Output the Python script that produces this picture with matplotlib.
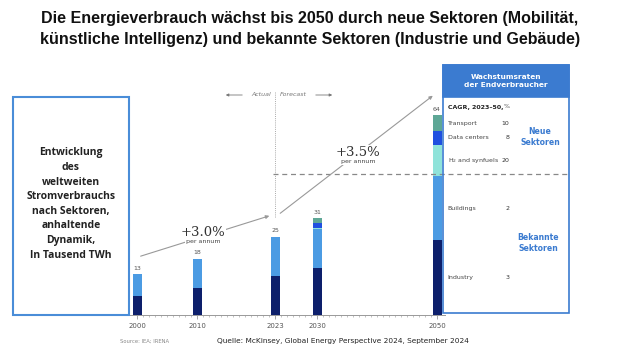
import matplotlib.pyplot as plt
from matplotlib.patches import Rectangle

# Data (in thousand TWh)
years = [2000, 2010, 2023, 2030, 2050]
industry = [6, 8.5, 12.5, 15, 24]
buildings = [7, 9.5, 12.5, 12.5, 20.5]
h2_synfuels = [0, 0, 0, 0.5, 10]
data_centers = [0, 0, 0, 1.5, 4.5]
transport = [0, 0, 0, 1.5, 5]
totals = [13, 18, 25, 31, 64]

sectors = ['Industry', 'Buildings', 'H$_2$ and synfuels', 'Data centers', 'Transport']
cagr = [3, 2, 20, 8, 10]
colors = ['#0d1f6b', '#4b9be3', '#8fe3da', '#1f50e0', '#5ea796']

BLUE = '#3b7bd0'

fig = plt.figure(figsize=(6.2, 3.6), dpi=100)

# bar axes: 2000 -> x=137px, 6 px per year, baseline at y=315px
ax = fig.add_axes([125 / 620, 45 / 360, 320 / 620, 230 / 360])
ax.set_xlim(1998, 2051.33)
ax.set_ylim(0, 230 / 3.12)

stack = [industry, buildings, h2_synfuels, data_centers, transport]
bottom = [0] * len(years)
for vals, c in zip(stack, colors):
    ax.bar(years, vals, bottom=bottom, width=1.5, color=c, zorder=2)
    bottom = [b + v for b, v in zip(bottom, vals)]

for x, t in zip(years, totals):
    ax.text(x, t + 1.2, str(t), ha='center', va='bottom', fontsize=4.5, color='#555')

for s in ['top', 'right', 'left']:
    ax.spines[s].set_visible(False)
ax.spines['bottom'].set_color('#999')
ax.spines['bottom'].set_linewidth(0.7)
ax.set_yticks([])
ax.set_xticks(years)
ax.set_xticklabels([str(y) for y in years])
ax.set_xticks(range(2000, 2051), minor=True)
ax.tick_params(axis='x', which='major', length=3, width=0.6, color='#999',
               labelsize=5, labelcolor='#555', pad=3)
ax.tick_params(axis='x', which='minor', length=1.5, width=0.5, color='#aaa')

# 2050 breakdown rows, at the segment middles of the 2050 bar
cum = 0
for vals, name, rate in zip(stack, sectors, cagr):
    mid = cum + vals[-1] / 2
    cum += vals[-1]
    ax.text(2051.8, mid, name, fontsize=4.5, color='#444', va='center', clip_on=False)
    ax.text(2062.0, mid, str(rate), fontsize=4.5, color='#333', ha='right', va='center',
            clip_on=False)

# overlay in pixel coordinates for annotations and boxes
ov = fig.add_axes([0, 0, 1, 1])
ov.set_xlim(0, 620)
ov.set_ylim(360, 0)
ov.axis('off')
ov.patch.set_alpha(0)

ov.text(310, 29, 'Die Energieverbrauch wächst bis 2050 durch neue Sektoren (Mobilität,\n'
        'künstliche Intelligenz) und bekannte Sektoren (Industrie und Gebäude)',
        ha='center', va='center', fontsize=11.5, fontweight='bold',
        family='Liberation Sans', linespacing=1.5, color='#111')

# left description box
ov.add_patch(Rectangle((13, 97), 116, 218, fill=False, edgecolor='#4a8dd8', lw=1.5))
ov.text(71, 204, 'Entwicklung\ndes\nweltweiten\nStromverbrauchs\nnach Sektoren,\nanhaltende\n'
        'Dynamik,\nIn Tausend TWh', ha='center', va='center', fontsize=7.5,
        fontweight='bold', family='Open Sans', linespacing=1.45, color='#222')

# actual / forecast divider
ov.plot([275, 275], [92, 217], ls=(0, (1, 1.2)), color='#aaa', lw=0.7)
ov.annotate('', xy=(223, 95), xytext=(245, 95),
            arrowprops=dict(arrowstyle='-|>', color='#777', lw=0.6, mutation_scale=4))
ov.annotate('', xy=(335, 95), xytext=(313, 95),
            arrowprops=dict(arrowstyle='-|>', color='#777', lw=0.6, mutation_scale=4))
ov.text(271, 95, 'Actual', ha='right', va='center', fontsize=4.5, style='italic', color='#777')
ov.text(280, 95, 'Forecast', ha='left', va='center', fontsize=4.5, style='italic', color='#777')

# dashed line, new vs. known sectors
ov.plot([273, 568], [174, 174], ls=(0, (4, 3)), color='#888', lw=0.9, zorder=3)

# growth arrows
ov.annotate('', xy=(272, 215), xytext=(138, 257),
            arrowprops=dict(arrowstyle='-|>', color='#999', lw=0.8, mutation_scale=5))
ov.annotate('', xy=(435, 94), xytext=(278, 215),
            arrowprops=dict(arrowstyle='-|>', color='#999', lw=0.8, mutation_scale=5))
for x, y, lab in [(203, 232, '+3.0%'), (358, 152, '+3.5%')]:
    ov.text(x, y, lab, ha='center', va='center', fontsize=9.5, family='DejaVu Serif',
            color='#333', zorder=4,
            bbox=dict(facecolor='white', edgecolor='none', pad=0.5))
    ov.text(x, y + 10, 'per annum', ha='center', va='center', fontsize=4.5, color='#444',
            zorder=4, bbox=dict(facecolor='white', edgecolor='none', pad=0.3))

# right panel
ov.add_patch(Rectangle((443, 65), 126, 248, fill=False, edgecolor=BLUE, lw=1.2, zorder=5))
ov.add_patch(Rectangle((443, 65), 126, 32, facecolor=BLUE, edgecolor=BLUE, lw=1.2, zorder=5))
ov.text(506, 81, 'Wachstumsraten\nder Endverbraucher', ha='center', va='center',
        fontsize=5.3, fontweight='bold', color='white', linespacing=1.5, zorder=6)
ov.text(448, 107, 'CAGR, 2023–50,', fontsize=4.5, fontweight='bold', color='#222',
        va='center')
ov.text(504, 107, '%', fontsize=4.5, color='#555', va='center')
ov.text(540, 137, 'Neue\nSektoren', ha='center', va='center', fontsize=5.6,
        fontweight='bold', color=BLUE, linespacing=1.3)
ov.text(538, 243, 'Bekannte\nSektoren', ha='center', va='center', fontsize=5.6,
        fontweight='bold', color=BLUE, linespacing=1.3)

# footer
ov.text(120, 341, 'Source: IEA; IRENA', fontsize=3.8, color='#888', va='center')
ov.text(217, 341, 'Quelle: McKinsey, Global Energy Perspective 2024, September 2024',
        fontsize=5.3, color='#222', va='center')

fig.savefig('out.png', dpi=100)
